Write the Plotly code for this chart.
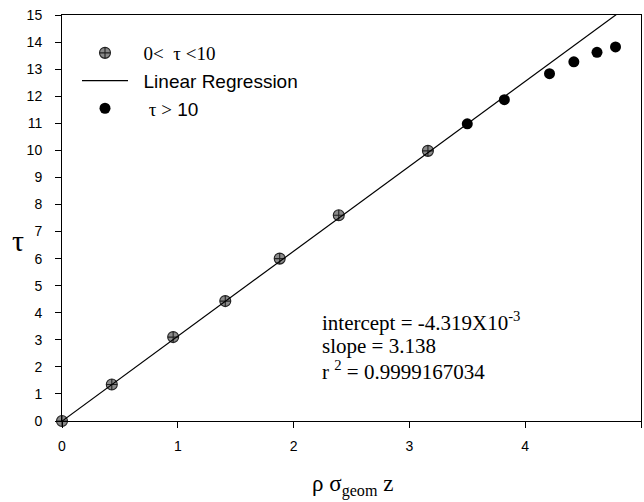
import plotly.graph_objects as go

# data
low_x = [0.0, 0.43, 0.96, 1.41, 1.88, 2.39, 3.16]
low_y = [0.0, 1.35, 3.10, 4.43, 6.00, 7.60, 9.98]
high_x = [3.50, 3.82, 4.21, 4.42, 4.62, 4.78]
high_y = [10.98, 11.87, 12.83, 13.27, 13.62, 13.82]
intercept = -4.319e-3
slope = 3.138
fit_x = [0.0, 5.0]
fit_y = [intercept + slope * v for v in fit_x]
x_ticks = [0, 1, 2, 3, 4, 5]
y_ticks = list(range(0, 16))
stats_lines = ["intercept = -4.319X10<sup>-3</sup>",
               "slope = 3.138",
               "r <sup>2</sup> = 0.9999167034"]

SERIF = "Liberation Serif, Times New Roman, serif"
SANS = "Liberation Sans, Arial, sans-serif"

# plot area in pixels
L, R, T, B = 62, 641, 15, 421
PW, PH = R - L, B - T


def px(x):
    return (x - L) / PW


def py(y):
    return (B - y) / PH


fig = go.Figure()
fig.add_trace(go.Scatter(
    x=low_x, y=low_y, mode="markers",
    name=f'&nbsp;&nbsp;<span style="font-family:{SERIF}">0&lt;  τ &lt;10</span>',
    marker=dict(symbol="circle-cross", size=11, color="#8a8a8a",
                line=dict(color="#222", width=1.1)),
    cliponaxis=False, legendgroup="a",
))
fig.add_trace(go.Scatter(
    x=fit_x, y=fit_y, mode="lines", name="&nbsp;&nbsp;Linear Regression",
    line=dict(color="black", width=1.2), legendgroup="a",
))
fig.add_trace(go.Scatter(
    x=high_x, y=high_y, mode="markers",
    name=f'&nbsp;&nbsp;&nbsp;<span style="font-family:{SERIF}">τ &gt;</span> 10',
    marker=dict(symbol="circle", size=11, color="black"),
    cliponaxis=False, legendgroup="a",
))

fig.update_layout(
    width=644, height=502,
    margin=dict(l=L, r=644 - R, t=T, b=502 - B),
    plot_bgcolor="white", paper_bgcolor="white",
    font=dict(family=SANS, size=14, color="black"),
    showlegend=True,
    legend=dict(x=px(77), y=py(34), xanchor="left", yanchor="top",
                bgcolor="rgba(0,0,0,0)", font=dict(family=SANS, size=19),
                itemwidth=46, tracegroupgap=0),
    xaxis=dict(range=[0, 5], tickvals=x_ticks, ticks="outside", ticklen=6,
               tickcolor="black", showline=True, linecolor="black", linewidth=1,
               mirror=True, showgrid=False, zeroline=False, ticklabelstandoff=6,
               tickfont=dict(family=SANS, size=14)),
    yaxis=dict(range=[0, 15], tickvals=y_ticks, ticks="outside", ticklen=6,
               tickcolor="black", showline=True, linecolor="black", linewidth=1,
               mirror=True, showgrid=False, zeroline=False, ticklabelstandoff=10,
               tickfont=dict(family=SANS, size=14)),
)

fig.add_annotation(xref="paper", yref="paper", x=px(18), y=py(240),
                   text="τ", showarrow=False, xanchor="center", yanchor="middle",
                   font=dict(family=SERIF, size=30))
fig.add_annotation(xref="paper", yref="paper", x=px(352), y=py(485),
                   text="ρ σ<sub>geom</sub> z", showarrow=False, xanchor="center",
                   yanchor="middle", font=dict(family=SERIF, size=23))
for i, line in enumerate(stats_lines):
    fig.add_annotation(xref="paper", yref="paper", x=px(320), y=py(321 + 24.5 * i),
                       text=line, showarrow=False, xanchor="left", yanchor="middle",
                       align="left", font=dict(family=SERIF, size=21))

fig.write_html("out.html")
